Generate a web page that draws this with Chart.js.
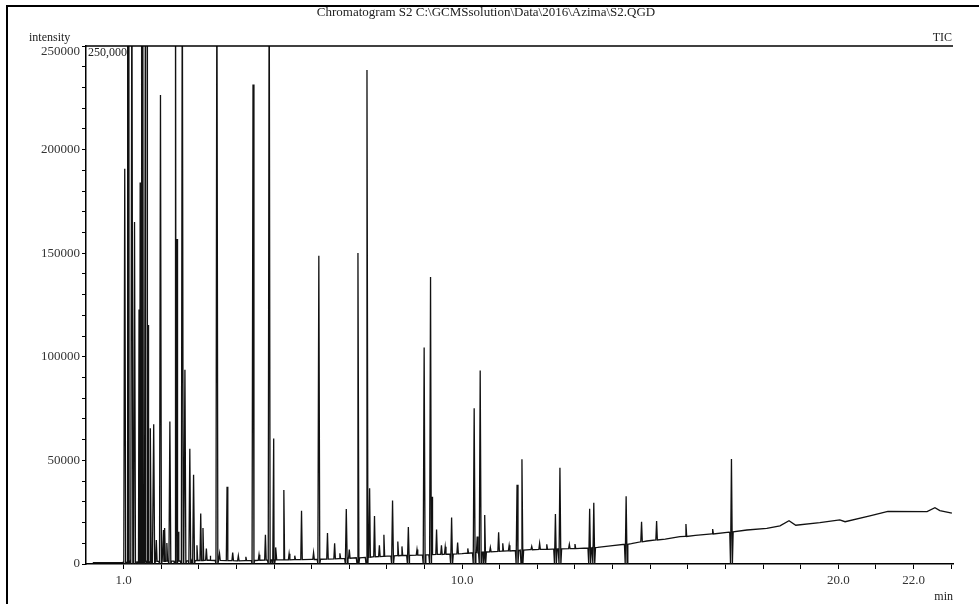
<!DOCTYPE html>
<html>
<head>
<meta charset="utf-8">
<script src="https://cdn.jsdelivr.net/npm/chart.js@4.4.1/dist/chart.umd.min.js"></script>
<style>
    body { margin: 0; background: #fff; }
    #marco { position: absolute; left: 6px; top: 5px; width: 990px; height: 640px; border-left: 2px solid #000; border-top: 2px solid #000; }
    #grafico { position: absolute; left: 0; top: 0; }
</style>
</head>
<body>
<div id="marco"></div>
<canvas id="grafico" width="979" height="604"></canvas>
<script>
// tick labels
const xLabelTicks = [1, 10, 20, 22];
const xLabelTexts = ['1.0', '10.0', '20.0', '22.0'];
const yLabelTicks = [0, 50000, 100000, 150000, 200000, 250000];

// baseline of the trace (min, intensity)
const baseTime = [0.18, 0.98, 1.6, 2.5, 3.3, 4.0, 5.0, 6.0, 6.8, 7.5, 8.0, 8.6, 9.4, 10.0, 10.6, 11.2, 11.8, 12.4,
    13.13, 13.6, 14.0, 14.5, 14.91, 15.4, 15.79, 16.2, 16.66, 17.1, 17.57, 18.1, 18.45, 18.69, 18.87, 19.51,
    20.04, 20.18, 20.84, 21.32, 22.36, 22.57, 22.70, 23.02];
const baseLevel = [700, 700, 1200, 1500, 1800, 1500, 2000, 2200, 2600, 3200, 3800, 4200, 4600, 5000, 5800, 6300, 6900, 7200,
    7500, 8000, 8900, 9800, 11100, 12000, 13200, 13800, 14500, 15400, 16400, 17200, 18400, 20900, 18700, 20000,
    21300, 20400, 23200, 25400, 25300, 27200, 25800, 24500];

// peaks: retention time, apex, local baseline, 1 = marker drops to zero
const peakTime = [1.03, 1.10, 1.14, 1.22, 1.29, 1.41, 1.44, 1.48, 1.51, 1.58, 1.63, 1.66, 1.71, 1.80, 1.87, 1.98,
    2.06, 2.09, 2.15, 2.23, 2.38, 2.42, 2.45, 2.56, 2.63, 2.76, 2.86, 2.95, 3.05, 3.11, 3.20, 3.30, 3.48, 3.55, 3.75,
    3.90, 4.05, 4.25, 4.44, 4.60, 4.77, 4.87, 4.99, 5.05, 5.26, 5.40, 5.55, 5.73, 6.05, 6.19, 6.42, 6.61, 6.75,
    6.92, 7.00, 7.23, 7.47, 7.54, 7.67, 7.80, 7.92, 8.15, 8.29, 8.40, 8.57, 8.80, 8.99, 9.16, 9.20, 9.32, 9.45,
    9.55, 9.72, 9.88, 10.15, 10.32, 10.40, 10.48, 10.60, 10.75, 10.97, 11.08, 11.25, 11.46, 11.59, 11.85,
    12.06, 12.25, 12.48, 12.60, 12.85, 13.0, 13.39, 13.50, 14.36, 14.77, 15.17, 15.95, 16.66, 17.16];
const peakHeight = [190800, 300000, 300000, 300000, 165000, 122800, 184100, 300000, 300000, 300000, 300000, 115300, 65500, 67500, 11600, 226400,
    16400, 17400, 10100, 68800, 300000, 156800, 15600, 300000, 93700, 55600, 43100, 9000, 24400, 17400, 7500, 4000, 300000, 5000, 37300,
    5500, 4000, 3500, 231400, 4500, 14100, 300000, 60600, 8000, 35700, 5000, 4000, 25700, 5500, 148800, 14900, 10000, 5200,
    26500, 7000, 150100, 238400, 36500, 23200, 9000, 14100, 30700, 10800, 8500, 17800, 7000, 104500, 138500, 32400, 16600, 9000,
    8300, 22400, 10300, 7500, 75200, 13300, 93400, 23600, 8000, 15300, 10000, 9000, 38200, 50600, 8500,
    10000, 9500, 24100, 46500, 9500, 9600, 26600, 29600, 32700, 20400, 20800, 19300, 16900, 50700];
const peakFloor = [800, 800, 800, 900, 900, 1000, 1000, 1000, 1000, 1100, 1100, 1200, 1200, 1200, 1300, 1300,
    1300, 1300, 1400, 1400, 1400, 1400, 1400, 1500, 1500, 1600, 1600, 1700, 1700, 1700, 1800, 1800, 1700, 1700, 1600,
    1600, 1500, 1600, 1700, 1800, 1900, 1900, 2000, 2000, 2000, 2000, 2100, 2100, 2200, 2300, 2400, 2500, 2600,
    2700, 2800, 3000, 3200, 3300, 3500, 3600, 3700, 3900, 4000, 4100, 4200, 4300, 4400, 4500, 4500, 4600, 4600,
    4700, 4800, 4900, 5200, 5400, 5500, 5600, 5800, 5900, 6100, 6200, 6300, 6500, 6700, 6900,
    7100, 7100, 7200, 7300, 7400, 7400, 7700, 7900, 9500, 10700, 11600, 13300, 14500, 15500];
const peakDip = [1, 1, 1, 1, 1, 1, 1, 1, 1, 1, 1, 1, 1, 1, 0, 1,
    0, 0, 0, 1, 1, 1, 0, 1, 1, 1, 1, 0, 0, 0, 0, 0, 1, 0, 0,
    0, 0, 0, 1, 0, 0, 1, 1, 0, 0, 0, 0, 0, 0, 1, 0, 0, 0,
    1, 0, 1, 1, 0, 0, 0, 0, 1, 0, 0, 1, 0, 1, 1, 0, 0, 0,
    0, 1, 0, 0, 1, 0, 1, 1, 0, 0, 0, 0, 1, 1, 0,
    0, 0, 1, 1, 0, 0, 1, 1, 1, 0, 0, 0, 0, 1];

const titleText = 'Chromatogram S2 C:\\GCMSsolution\\Data\\2016\\Azima\\S2.QGD';
const serif = '"Liberation Serif", "DejaVu Serif", serif';

function buildTrace() {
    let puntos = [];
    for (let i = 0; i < baseTime.length; i++) {
        puntos.push({x: baseTime[i], y: baseLevel[i]});
    }
    for (let i = 0; i < peakTime.length; i++) {
        let t = peakTime[i];
        if (peakDip[i] === 1) {
            puntos.push({x: t - 0.045, y: peakFloor[i]});
            puntos.push({x: t - 0.025, y: 0});
            puntos.push({x: t, y: peakHeight[i]});
            puntos.push({x: t + 0.025, y: 0});
            puntos.push({x: t + 0.045, y: peakFloor[i]});
        } else {
            puntos.push({x: t - 0.02, y: peakFloor[i]});
            puntos.push({x: t, y: peakHeight[i]});
            puntos.push({x: t + 0.02, y: peakFloor[i]});
        }
    }
    puntos.sort((a, b) => a.x - b.x);
    return puntos;
}

// texts around the plot and the frame line on top
const decoPlugin = {
    id: 'deco',
    beforeDatasetsDraw(chart) {
        const ctx = chart.ctx;
        const area = chart.chartArea;
        ctx.save();
        ctx.fillStyle = '#222';
        ctx.font = '12px ' + serif;
        ctx.textAlign = 'left';
        ctx.textBaseline = 'middle';
        ctx.fillText('250,000', area.left + 2, area.top + 7);
        ctx.restore();
    },
    afterDraw(chart) {
        const ctx = chart.ctx;
        const area = chart.chartArea;
        ctx.save();
        ctx.strokeStyle = '#000';
        ctx.lineWidth = 1.5;
        ctx.beginPath();
        ctx.moveTo(area.left, area.top);
        ctx.lineTo(area.right, area.top);
        ctx.stroke();

        ctx.fillStyle = '#222';
        ctx.font = '13px ' + serif;
        ctx.textBaseline = 'middle';
        ctx.textAlign = 'center';
        ctx.fillText(titleText, 486, 13);
        ctx.font = '12px ' + serif;
        ctx.textAlign = 'left';
        ctx.fillText('intensity', 29, 38);
        ctx.textAlign = 'right';
        ctx.fillText('TIC', 952, 38);
        // top value label sits a bit below its tick, like the source
        ctx.fillStyle = '#333';
        ctx.font = '13px ' + serif;
        ctx.fillText(String(yLabelTicks[yLabelTicks.length - 1]), area.left - 6, area.top + 6);
        ctx.fillStyle = '#222';
        ctx.font = '12px ' + serif;
        ctx.textBaseline = 'alphabetic';
        ctx.fillText('min', 953, 600);
        ctx.restore();
    }
};

let minuteTicks = [];
for (let m = 1; m <= 23; m++) minuteTicks.push({value: m});
let intensityTicks = [];
for (let v = 0; v <= 250000; v += 10000) intensityTicks.push({value: v});

const myChart = new Chart(document.getElementById('grafico'), {
    type: 'line',
    data: {
        datasets: [{
            label: 'TIC',
            data: buildTrace(),
            borderColor: '#111',
            borderWidth: 1.3,
            pointRadius: 0,
            tension: 0,
            fill: false
        }]
    },
    options: {
        responsive: false,
        animation: false,
        devicePixelRatio: 1,
        layout: {padding: {top: 46, right: 26, bottom: 0, left: 0}},
        plugins: {legend: {display: false}, tooltip: {enabled: false}},
        scales: {
            x: {
                type: 'linear',
                min: 0,
                max: 23.05,
                afterBuildTicks: (scale) => { scale.ticks = minuteTicks.slice(); },
                afterFit: (scale) => { scale.height = 40; },
                ticks: {
                    autoSkip: false,
                    maxRotation: 0,
                    padding: 4,
                    color: '#333',
                    font: {family: serif, size: 13},
                    callback: (v) => {
                        let k = xLabelTicks.indexOf(v);
                        return k >= 0 ? xLabelTexts[k] : '';
                    }
                },
                grid: {display: true, drawOnChartArea: false, drawTicks: true, tickLength: 5, color: '#000', lineWidth: 1},
                border: {display: true, color: '#000', width: 1.5}
            },
            y: {
                min: 0,
                max: 250000,
                afterBuildTicks: (scale) => { scale.ticks = intensityTicks.slice(); },
                afterFit: (scale) => { scale.width = 86; },
                ticks: {
                    autoSkip: false,
                    padding: 2,
                    color: '#333',
                    font: {family: serif, size: 13},
                    // the top label is drawn by the plugin
                    callback: (v) => (yLabelTicks.indexOf(v) >= 0 && v < 250000) ? String(v) : ''
                },
                grid: {display: true, drawOnChartArea: false, drawTicks: true, tickLength: 4, color: '#000', lineWidth: 1},
                border: {display: true, color: '#000', width: 1.5}
            }
        }
    },
    plugins: [decoPlugin]
});
</script>
</body>
</html>
